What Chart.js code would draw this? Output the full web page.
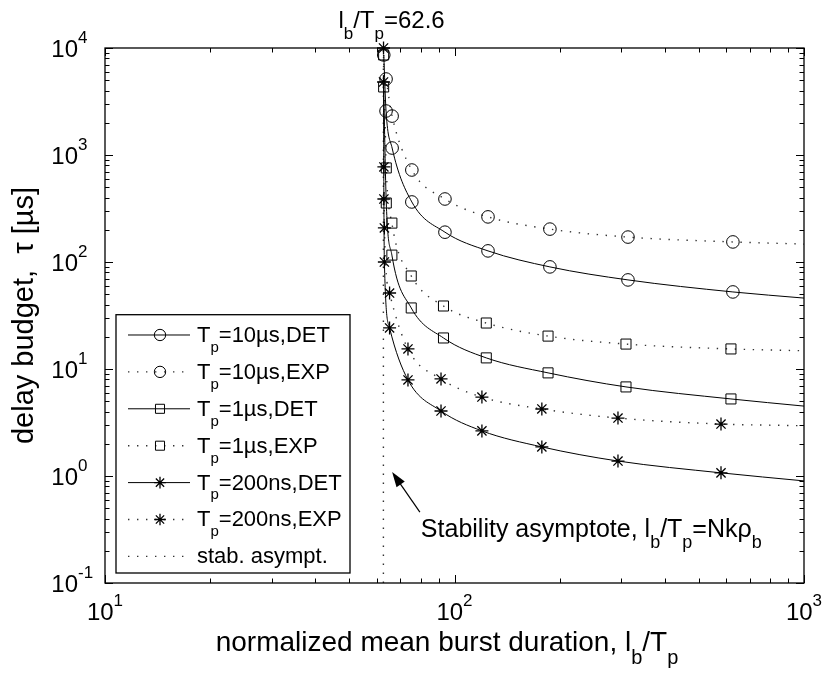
<!DOCTYPE html>
<html>
<head>
<meta charset="utf-8">
<script src="https://cdn.jsdelivr.net/npm/chart.js@4.4.1/dist/chart.umd.min.js"></script>
<style>
  body { margin: 0; background: #fff; }
  #wrap { width: 827px; height: 678px; }
</style>
</head>
<body>
<div id="wrap"><canvas id="delayChart" width="827" height="678"></canvas></div>
<script>
// axis ranges and decade ticks (log-log)
const xMin = 10, xMax = 1000, yMin = 0.1, yMax = 10000;
const xTickExps = [1, 2, 3];
const yTickExps = [-1, 0, 1, 2, 3, 4];
const asymptoteX = 62.6;

// Tp = 10us (circles); last point is where the curve leaves the frame, no marker
const det10X = [62.75, 63.7, 66.3, 75.5, 93.9, 124.7, 187.5, 313.6, 626, 1000];
const det10Y = [8610, 2577, 1162, 364, 190, 127, 90, 68, 52.5, 46];
const exp10X = [63.7, 66.3, 75.5, 93.9, 124.7, 187.5, 313.6, 626, 1000];
const exp10Y = [5130, 2310, 724, 388, 264, 203, 171, 154, 147];

// Tp = 1us (squares)
const det1X = [62.7, 63.8, 66.2, 75.2, 93.0, 123.3, 185.2, 309.5, 618, 1000];
const det1Y = [4325, 356, 116, 37.2, 19.5, 12.7, 9.2, 6.8, 5.25, 4.5];
const exp1X = [62.7, 63.8, 66.2, 75.2, 93.0, 123.3, 185.2, 309.5, 618, 1000];
const exp1Y = [8610, 757, 231, 74, 38.8, 26.9, 20.3, 17.1, 15.4, 14.8];

// Tp = 200ns (stars)
const det200X = [62.65, 62.8, 63.0, 65.2, 73.6, 91.5, 119.8, 177.8, 293.6, 578.8, 1000];
const det200Y = [4810, 388, 100, 24.2, 7.9, 4.05, 2.64, 1.87, 1.38, 1.07, 0.9];
const exp200X = [62.65, 62.8, 63.0, 65.2, 73.6, 91.5, 119.8, 177.8, 293.6, 578.8, 1000];
const exp200Y = [10000, 773, 208, 51.3, 15.4, 8.07, 5.47, 4.23, 3.48, 3.06, 2.95];

// annotation anchors, in data units
const arrowTip = { x: 66.3, y: 1.09 };
const arrowTail = { x: 79.6, y: 0.46 };

const FONT = '"Liberation Sans", Arial, Helvetica, sans-serif';
const DOTS = [1.4, 7.6];
const RADIUS = { circle: 6.3, rect: 7.1, star: 6.5 };

const series = [
  { label: [['T', ''], ['p', 'sub'], ['=10µs,DET', '']], xs: det10X, ys: det10Y, marker: 'circle', dotted: false },
  { label: [['T', ''], ['p', 'sub'], ['=10µs,EXP', '']], xs: exp10X, ys: exp10Y, marker: 'circle', dotted: true },
  { label: [['T', ''], ['p', 'sub'], ['=1µs,DET', '']], xs: det1X, ys: det1Y, marker: 'rect', dotted: false },
  { label: [['T', ''], ['p', 'sub'], ['=1µs,EXP', '']], xs: exp1X, ys: exp1Y, marker: 'rect', dotted: true },
  { label: [['T', ''], ['p', 'sub'], ['=200ns,DET', '']], xs: det200X, ys: det200Y, marker: 'star', dotted: false },
  { label: [['T', ''], ['p', 'sub'], ['=200ns,EXP', '']], xs: exp200X, ys: exp200Y, marker: 'star', dotted: true },
];

function partFont(size, mode) {
  return (mode ? Math.round(size * 0.7) : size) + 'px ' + FONT;
}

function richWidth(ctx, parts, size) {
  let w = 0;
  parts.forEach(([t, mode]) => {
    ctx.font = partFont(size, mode);
    w += ctx.measureText(t).width;
  });
  return w;
}

function drawRich(ctx, parts, x, y, size, align) {
  const w = richWidth(ctx, parts, size);
  let cx = align === 'center' ? x - w / 2 : align === 'right' ? x - w : x;
  ctx.textAlign = 'left';
  ctx.textBaseline = 'alphabetic';
  parts.forEach(([t, mode]) => {
    ctx.font = partFont(size, mode);
    const dy = mode === 'sub' ? size * 0.45 : mode === 'sup' ? -size * 0.58 : 0;
    ctx.fillText(t, cx, y + dy);
    cx += ctx.measureText(t).width;
  });
}

function drawMarker(ctx, style, x, y, r) {
  ctx.beginPath();
  if (style === 'circle') {
    ctx.arc(x, y, r, 0, Math.PI * 2);
  } else if (style === 'rect') {
    const s = r * Math.SQRT1_2;
    ctx.rect(x - s, y - s, 2 * s, 2 * s);
  } else {
    for (let k = 0; k < 4; k++) {
      const a = k * Math.PI / 4;
      ctx.moveTo(x - r * Math.cos(a), y - r * Math.sin(a));
      ctx.lineTo(x + r * Math.cos(a), y + r * Math.sin(a));
    }
  }
  ctx.stroke();
}

const matlabFrame = {
  id: 'matlabFrame',
  afterDraw(chart) {
    const ctx = chart.ctx;
    const a = chart.chartArea;
    const xs = chart.scales.x, ys = chart.scales.y;
    ctx.save();
    ctx.strokeStyle = '#000';
    ctx.fillStyle = '#000';

    // inward ticks on all four sides
    ctx.lineWidth = 1;
    ctx.beginPath();
    for (let e = 1; e <= 3; e++) {
      for (let m = 1; m <= 9; m++) {
        const v = m * Math.pow(10, e);
        if (v > xMax) continue;
        const px = Math.round(xs.getPixelForValue(v)) + 0.5;
        const len = m === 1 ? 8 : 4.5;
        ctx.moveTo(px, a.bottom); ctx.lineTo(px, a.bottom - len);
        ctx.moveTo(px, a.top); ctx.lineTo(px, a.top + len);
      }
    }
    for (let e = -1; e <= 4; e++) {
      for (let m = 1; m <= 9; m++) {
        const v = m * Math.pow(10, e);
        if (v > yMax * 1.0001) continue;
        const py = Math.round(ys.getPixelForValue(v)) + 0.5;
        const len = m === 1 ? 8 : 4.5;
        ctx.moveTo(a.left, py); ctx.lineTo(a.left + len, py);
        ctx.moveTo(a.right, py); ctx.lineTo(a.right - len, py);
      }
    }
    ctx.stroke();

    // frame
    ctx.lineWidth = 1.3;
    ctx.strokeRect(a.left, a.top, a.right - a.left, a.bottom - a.top);

    // tick labels
    xTickExps.forEach((e) => {
      const px = xs.getPixelForValue(Math.pow(10, e));
      drawRich(ctx, [['10', ''], [String(e), 'sup']], px, a.bottom + 37, 24, 'center');
    });
    yTickExps.forEach((e) => {
      const py = ys.getPixelForValue(Math.pow(10, e));
      ctx.font = partFont(24, '');
      ctx.textAlign = 'right';
      ctx.fillText('10', 78, py + 9);
      ctx.font = partFont(24, 'sup');
      ctx.textAlign = 'left';
      ctx.fillText(String(e), 78, py - 5);
    });

    // axis titles
    drawRich(ctx, [['normalized mean burst duration, l', ''], ['b', 'sub'], ['/T', ''], ['p', 'sub']],
      447, 651, 28, 'center');
    ctx.save();
    ctx.translate(33, (a.top + a.bottom) / 2);
    ctx.rotate(-Math.PI / 2);
    ctx.font = partFont(29, '');
    ctx.textAlign = 'center';
    ctx.fillText('delay budget,  \u03c4 [µs]', 0, 0);
    ctx.restore();

    // value of the asymptote above the frame
    drawRich(ctx, [['l', ''], ['b', 'sub'], ['/T', ''], ['p', 'sub'], ['=62.6', '']],
      xs.getPixelForValue(asymptoteX) - 45, 28, 24, 'left');

    // arrow and annotation
    const tx = xs.getPixelForValue(arrowTip.x), ty = ys.getPixelForValue(arrowTip.y);
    const sx = xs.getPixelForValue(arrowTail.x), sy = ys.getPixelForValue(arrowTail.y);
    const ang = Math.atan2(ty - sy, tx - sx);
    ctx.lineWidth = 1.2;
    ctx.beginPath();
    ctx.moveTo(sx, sy);
    ctx.lineTo(tx - 8 * Math.cos(ang), ty - 8 * Math.sin(ang));
    ctx.stroke();
    ctx.beginPath();
    ctx.moveTo(tx, ty);
    ctx.lineTo(tx - 15 * Math.cos(ang) + 5 * Math.sin(ang), ty - 15 * Math.sin(ang) - 5 * Math.cos(ang));
    ctx.lineTo(tx - 15 * Math.cos(ang) - 5 * Math.sin(ang), ty - 15 * Math.sin(ang) + 5 * Math.cos(ang));
    ctx.closePath();
    ctx.fill();
    drawRich(ctx, [['Stability asymptote, l', ''], ['b', 'sub'], ['/T', ''], ['p', 'sub'], ['=Nk\u03c1', ''], ['b', 'sub']],
      sx + 1, sy + 25, 25, 'left');

    // legend
    const lx = a.left + 11, lw = 234, rowH = 36.9, lh = rowH * 7;
    const ly = a.bottom - 10 - lh;
    ctx.fillStyle = '#fff';
    ctx.fillRect(lx, ly, lw, lh);
    ctx.lineWidth = 1.3;
    ctx.strokeRect(lx, ly, lw, lh);
    ctx.fillStyle = '#000';
    const rows = series.map((s) => ({ label: s.label, marker: s.marker, dotted: s.dotted }));
    rows.push({ label: [['stab. asympt.', '']], marker: null, dotted: true });
    rows.forEach((r, i) => {
      const cy = ly + rowH * (i + 0.55);
      ctx.lineWidth = r.dotted ? 1.4 : 1;
      ctx.strokeStyle = r.dotted ? '#333' : '#000';
      ctx.setLineDash(r.dotted ? DOTS : []);
      ctx.beginPath();
      ctx.moveTo(lx + 12, cy);
      ctx.lineTo(lx + 74, cy);
      ctx.stroke();
      ctx.setLineDash([]);
      ctx.strokeStyle = '#000';
      ctx.lineWidth = r.marker === 'star' ? 1.3 : 1;
      if (r.marker) drawMarker(ctx, r.marker, lx + 44, cy, RADIUS[r.marker] * 0.9);
      drawRich(ctx, r.label, lx + 81, cy + 7, 22, 'left');
    });
    ctx.restore();
  }
};

const datasets = series.map((s) => ({
  data: s.xs.map((x, i) => ({ x: x, y: s.ys[i] })),
  showLine: true,
  borderColor: s.dotted ? '#333' : '#000',
  borderWidth: s.dotted ? 1.4 : 1,
  borderDash: s.dotted ? DOTS : [],
  cubicInterpolationMode: 'monotone',
  pointStyle: s.marker,
  pointRadius: (c) => (c.raw && c.raw.x >= xMax ? 0 : RADIUS[s.marker]),
  pointBorderColor: '#000',
  pointBackgroundColor: 'rgba(0,0,0,0)',
  pointBorderWidth: s.marker === 'star' ? 1.3 : 1,
  clip: 10,
}));

datasets.push({
  data: [{ x: asymptoteX, y: yMin }, { x: asymptoteX, y: yMax }],
  showLine: true,
  borderColor: '#333',
  borderWidth: 1.4,
  borderDash: DOTS,
  pointRadius: 0,
});

const ctx = document.getElementById('delayChart');
new Chart(ctx, {
  type: 'scatter',
  data: { datasets: datasets },
  options: {
    responsive: false,
    animation: false,
    devicePixelRatio: 1,
    layout: { padding: { left: 105, right: 23, top: 48, bottom: 95 } },
    scales: {
      x: { type: 'logarithmic', min: xMin, max: xMax, display: false },
      y: { type: 'logarithmic', min: yMin, max: yMax, display: false },
    },
    plugins: {
      legend: { display: false },
      tooltip: { enabled: false },
    },
  },
  plugins: [matlabFrame],
});
</script>
</body>
</html>
